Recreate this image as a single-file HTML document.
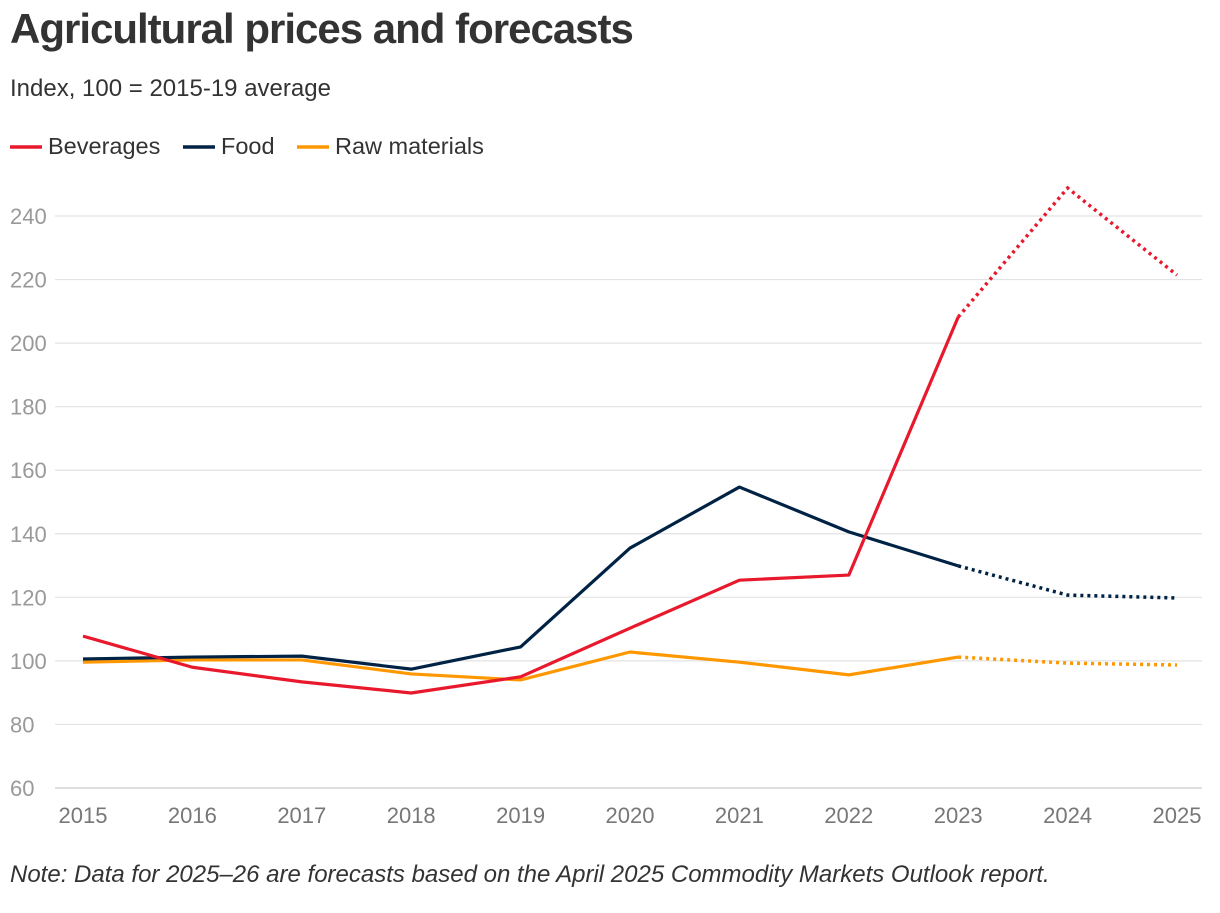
<!DOCTYPE html>
<html><head><meta charset="utf-8"><style>
body{margin:0;background:#fff;width:1220px;height:908px;overflow:hidden;font-family:"Liberation Sans",Arial,sans-serif}
svg text{font-family:"Liberation Sans",Arial,sans-serif}
</style></head><body>
<svg id="c" width="1220" height="908">
<text x="10" y="43" font-size="42" font-weight="bold" fill="#333" letter-spacing="-1">Agricultural prices and forecasts</text>
<text x="10" y="96" font-size="24" fill="#333">Index, 100 = 2015-19 average</text>
<g>
<g><line x1="10" y1="147" x2="42" y2="147" stroke="#e8192c" stroke-width="3.5"/><text x="48" y="154" font-size="23.5" fill="#333">Beverages</text></g>
<g><line x1="183" y1="147" x2="215" y2="147" stroke="#002345" stroke-width="3.5"/><text x="221" y="154" font-size="23.5" fill="#333">Food</text></g>
<g><line x1="297" y1="147" x2="329" y2="147" stroke="#ff9800" stroke-width="3.5"/><text x="335" y="154" font-size="23.5" fill="#333">Raw materials</text></g>
</g>
<g id="grid"></g>
<g id="yax"></g>
<g id="xax"></g>
<g id="series"></g>
<text x="10" y="882" font-size="24" font-style="italic" fill="#333">Note: Data for 2025–26 are forecasts based on the April 2025 Commodity Markets Outlook report.</text>
</svg>
<script>
const years=[2015,2016,2017,2018,2019,2020,2021,2022,2023,2024,2025];
const beverages=[107.8,98,93.4,89.9,95,110.3,125.4,127,208.2,248.8,221.4];
const food=[100.6,101.2,101.5,97.4,104.4,135.5,154.7,140.6,129.9,120.7,119.8];
const rawMaterials=[99.6,100.3,100.3,95.9,94,102.8,99.6,95.6,101.2,99.3,98.7];
const yTicks=[60,80,100,120,140,160,180,200,220,240];
const forecastStart=2023;
const NS='http://www.w3.org/2000/svg';
const xs=v=>83+(v-2015)*(1177-83)/10;
const ys=v=>788-(v-60)*(788-216)/180;
function mk(t,a,p){const e=document.createElementNS(NS,t);for(const k in a)e.setAttribute(k,a[k]);p.appendChild(e);return e;}
const grid=document.getElementById('grid'),yax=document.getElementById('yax'),xax=document.getElementById('xax'),ser=document.getElementById('series');
yTicks.forEach(t=>{
 const l=mk('line',{x1:55,x2:1202,y1:ys(t),y2:ys(t),stroke:t===60?'#ccc':'#e3e3e3','stroke-width':1.2},grid);
 
 
 const tx=mk('text',{x:10,y:ys(t)+8,'font-size':22,fill:'#999'},yax);tx.textContent=t;
 
 
});
years.forEach(y=>{
 const tx=mk('text',{x:xs(y),y:823,'font-size':22,fill:'#777','text-anchor':'middle'},xax);tx.textContent=y;
 
 
});
function draw(vals,color,name){
 const fi=years.indexOf(forecastStart);
 const pts=(a,b)=>years.slice(a,b).map((y,i)=>xs(y)+','+ys(vals[a+i])).join(' ');
 const s=mk('polyline',{points:pts(0,fi+1),fill:'none',stroke:color,'stroke-width':3.2,'stroke-linejoin':'round'},ser);
 
 
 const f=mk('polyline',{points:pts(fi,years.length),fill:'none',stroke:color,'stroke-width':3.5,'stroke-dasharray':'3 4','stroke-linecap':'butt'},ser);
 
 
}
draw(rawMaterials,'#ff9800','raw-materials');
draw(food,'#002345','food');
draw(beverages,'#e8192c','beverages');
</script>
</body></html>
